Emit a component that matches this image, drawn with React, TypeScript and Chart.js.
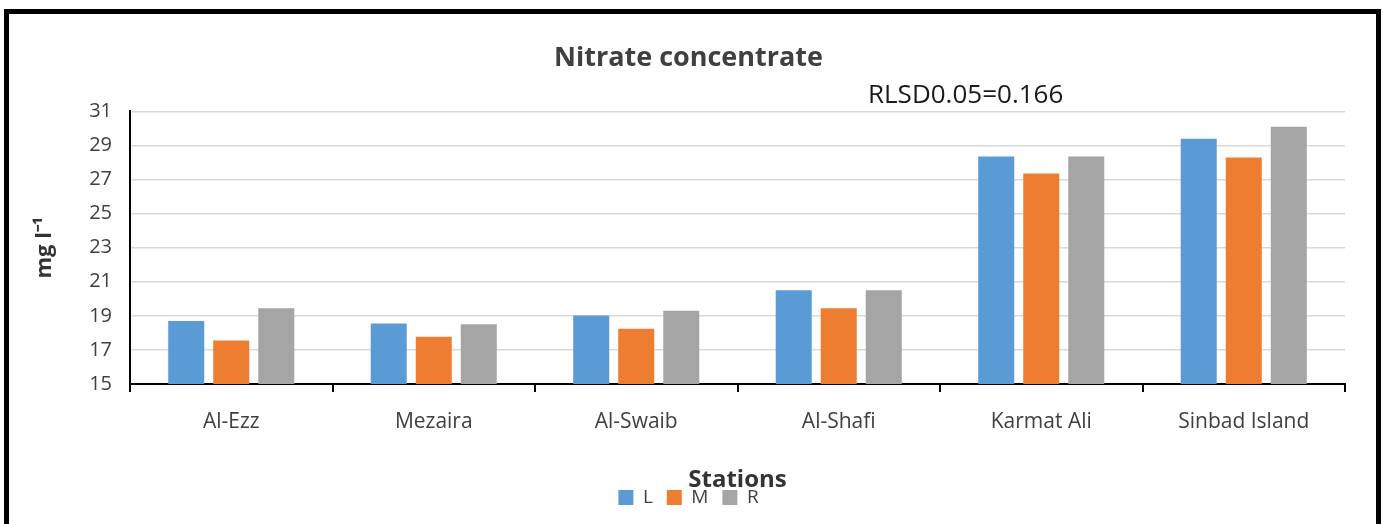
import React, { useEffect, useRef } from "react";
import { Chart, registerables } from "chart.js";

Chart.register(...registerables);

const categories = ["Al-Ezz", "Mezaira", "Al-Swaib", "Al-Shafi", "Karmat Ali", "Sinbad Island"];
const seriesL = [18.7, 18.55, 19.02, 20.5, 28.35, 29.4];
const seriesM = [17.55, 17.78, 18.25, 19.45, 27.35, 28.3];
const seriesR = [19.45, 18.5, 19.3, 20.5, 28.35, 30.1];
const yTicks = [15, 17, 19, 21, 23, 25, 27, 29, 31];
const titleText = "Nitrate concentrate";
const noteText = "RLSD0.05=0.166";

const FONT = "'Open Sans', 'Liberation Sans', sans-serif";

const notePlugin = {
  id: "notePlugin",
  afterDraw(chart: any) {
    const ctx = chart.ctx;
    ctx.save();
    ctx.font = `26px ${FONT}`;
    ctx.fillStyle = "#1a1a1a";
    ctx.textAlign = "left";
    ctx.textBaseline = "middle";
    ctx.fillText(noteText, 868, 96);
    ctx.restore();
  },
};

export default function App() {
  const ref = useRef<HTMLCanvasElement | null>(null);
  useEffect(() => {
    if (!ref.current) return;
    const chart = new Chart(ref.current, {
      type: "bar",
      data: {
        labels: categories,
        datasets: [
          { label: "L", data: seriesL, backgroundColor: "#5b9bd5" },
          { label: "M", data: seriesM, backgroundColor: "#ed7d31" },
          { label: "R", data: seriesR, backgroundColor: "#a5a5a5" },
        ],
      },
      options: {
        animation: false,
        responsive: false,
        maintainAspectRatio: false,
        layout: { padding: { left: 32, right: 38, top: 0, bottom: 7 } },
        datasets: { bar: { barPercentage: 0.8, categoryPercentage: 0.667 } },
        plugins: {
          title: {
            display: true,
            text: titleText,
            color: "#404040",
            font: { family: FONT, size: 27, weight: "bold" },
            padding: { top: 42, bottom: 37 },
          },
          legend: {
            position: "bottom",
            labels: {
              boxWidth: 15,
              boxHeight: 15,
              padding: 14,
              color: "#404040",
              font: { family: FONT, size: 19 },
            },
          },
          tooltip: { enabled: false },
        },
        scales: {
          x: {
            grid: {
              offset: true,
              drawOnChartArea: false,
              drawTicks: true,
              tickLength: 8,
              color: "#000",
              lineWidth: 2,
            },
            border: { display: true, color: "#000", width: 2 },
            ticks: {
              color: "#404040",
              padding: 17,
              font: { family: FONT, size: 21 },
            },
            title: {
              display: true,
              text: "Stations",
              color: "#333",
              font: { family: FONT, size: 24, weight: "bold" },
              padding: { top: 15, bottom: -21 },
            },
          },
          y: {
            min: 15,
            max: 31,
            afterBuildTicks(scale: any) {
              scale.ticks = yTicks.map((v) => ({ value: v }));
            },
            afterFit(scale: any) {
              scale.width = 98;
            },
            grid: { color: "#d9d9d9", lineWidth: 1.5, drawTicks: false },
            border: { display: true, color: "#000", width: 2 },
            ticks: {
              color: "#404040",
              padding: 18,
              font: { family: FONT, size: 20 },
            },
            title: {
              display: true,
              text: "mg l⁻¹",
              color: "#333",
              font: { family: FONT, size: 22, weight: "bold" },
              padding: { top: 0, bottom: 10 },
            },
          },
        },
      },
      plugins: [notePlugin],
    });
    return () => chart.destroy();
  }, []);

  return (
    <div style={{ position: "fixed", left: 0, top: 0, width: 1383, height: 524, overflow: "hidden", background: "#fff" }}>
      <div
        style={{
          position: "absolute",
          left: 4,
          top: 9,
          width: 1377,
          height: 600,
          border: "5px solid #000",
          boxSizing: "border-box",
        }}
      />
      <canvas ref={ref} width={1383} height={524} style={{ position: "absolute", left: 0, top: 0 }} />
    </div>
  );
}
